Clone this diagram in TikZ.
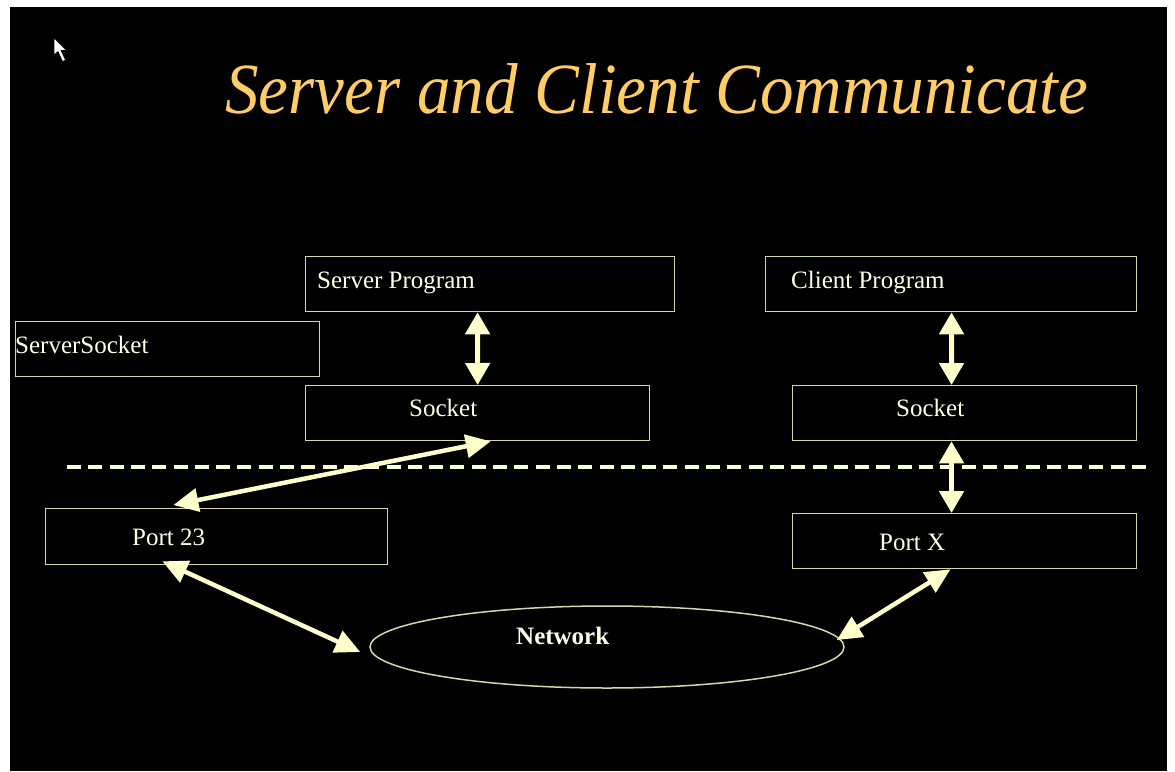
\documentclass[tikz,border=0pt]{standalone}
\usepackage{fontspec}
\setmainfont{Liberation Serif}
\usetikzlibrary{arrows.meta,calc,shapes.geometric}

\definecolor{titlegold}{RGB}{255,204,102}
\definecolor{linkcream}{RGB}{255,255,204}
\definecolor{framebeige}{RGB}{214,214,168}
\definecolor{labelwhite}{RGB}{255,255,232}

% typesets #2 condensed so that it is #1 wide
\newcommand\fitwidth[2]{%
  \setbox0=\hbox{#2}%
  \pgfmathsetmacro\fitsx{#1/\the\wd0}%
  \scalebox{\fitsx}[1]{\box0}}

\begin{document}
\begin{tikzpicture}[x=1pt,y=-1pt,
  box/.style={draw=framebeige,line width=1.3pt,inner sep=0pt,anchor=north west},
  lbl/.style={text=labelwhite,font=\fontsize{25}{25}\selectfont,inner sep=0pt,anchor=base west},
  link/.style={draw=linkcream,line width=5pt,
    {Triangle[width=24pt,length=22pt]}-{Triangle[width=24pt,length=22pt]}},
  slant/.style={draw=linkcream,line width=4.5pt,
    {Triangle[width=23pt,length=25pt]}-{Triangle[width=23pt,length=25pt]}},
]
% page and slide background
\fill[white] (0,0) rectangle (1175,771);
\fill[black] (10,7) rectangle (1167,771);
\useasboundingbox (0,0) rectangle (1175,771);

% mouse pointer
\filldraw[fill=white,draw=black,line width=0.6pt]
  (54,38) -- (54,55) -- (58,51.5) -- (62.5,61.5) -- (65.5,60) -- (61,50.5) -- (66.5,50.5) -- cycle;

% title
\node[anchor=base west,inner sep=0pt,text=titlegold,
  font=\fontsize{72}{72}\selectfont\itshape] (title) at (225,113)
  {\fitwidth{863}{Server and Client Communicate}};

% boxes
\node[box,minimum width=369pt,minimum height=55pt] (sprog) at (305,256) {};
\node[box,minimum width=344pt,minimum height=55pt] (ssock) at (305,385) {};
\node[box,minimum width=304pt,minimum height=55pt] (srvsock) at (15,321) {};
\node[box,minimum width=342pt,minimum height=56pt] (p23) at (45,508) {};
\node[box,minimum width=371pt,minimum height=55pt] (cprog) at (765,256) {};
\node[box,minimum width=344pt,minimum height=55pt] (csock) at (792,385) {};
\node[box,minimum width=344pt,minimum height=55pt] (px) at (792,513) {};
\node[draw=framebeige,line width=1.5pt,ellipse,inner sep=0pt,
  minimum width=474pt,minimum height=82pt] (net) at (607,647) {};

% labels
\node[lbl] (tsprog) at (317,288) {Server Program};
\node[lbl] (tssock) at (409,416) {Socket};
\node[lbl] (tsrvsock) at (15,353) {ServerSocket};
\node[lbl] (tp23) at (132,545) {Port 23};
\node[lbl] (tcprog) at (791,288) {Client Program};
\node[lbl] (tcsock) at (896,416) {Socket};
\node[lbl] (tpx) at (879,550) {Port X};
\node[lbl,font=\fontsize{25}{25}\selectfont\bfseries] (tnet) at (516,644) {Network};

% boundary between program side and network side
\coordinate (dl) at (67,467);
\coordinate (dr) at (1147,467);
\draw[linkcream,line width=4.5pt,dash pattern=on 14pt off 7.3pt] (dl) -- (dr);

% connectors
\draw[link] ($(sprog.south west)!0.466!(sprog.south east)$) -- ($(ssock.north west)!0.5!(ssock.north east)$);
\draw[link] ($(cprog.south west)!0.501!(cprog.south east)$) -- ($(csock.north west)!0.462!(csock.north east)$);
\draw[link] ($(csock.south west)!0.462!(csock.south east)$) -- ($(px.north west)!0.462!(px.north east)$);
\draw[slant] ($(ssock.south west)!0.538!(ssock.south east)$) -- ($(p23.north west)!0.374!(p23.north east)+(0,-3)$);
\draw[slant] ($(p23.south west)!0.342!(p23.south east)+(0,-4)$) -- ($(net.west)+(-9,5)$);
\draw[slant] ($(net.east)+(-8,-7)$) -- ($(px.south west)!0.459!(px.south east)$);
\end{tikzpicture}
\end{document}
